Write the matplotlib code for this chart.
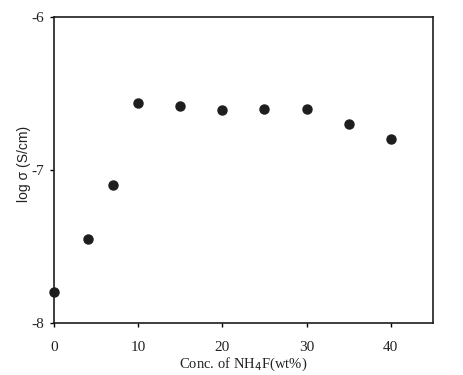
import matplotlib
matplotlib.use("Agg")
import matplotlib.pyplot as plt

# data
conc = [0, 4, 7, 10, 15, 20, 25, 30, 35, 40]
log_sigma = [-7.80, -7.45, -7.10, -6.56, -6.58, -6.61, -6.60, -6.60, -6.70, -6.80]

xticks = [0, 10, 20, 30, 40]
yticks = [-8, -7, -6]

fig = plt.figure(figsize=(4.64, 3.75), dpi=100)
ax = fig.add_axes([0.116, 0.139, 0.817, 0.816])

ax.plot(conc, log_sigma, 'o', color='#1e1e1e', markersize=6.5, clip_on=False, zorder=3)

ax.set_xlim(0, 45)
ax.set_ylim(-8, -6)
ax.set_xticks(xticks)
ax.set_yticks(yticks)
ax.set_xticklabels([str(t) for t in xticks], family='Liberation Serif', fontsize=11, color='#222222')
ax.set_yticklabels([str(t) for t in yticks], family='Liberation Serif', fontsize=11, color='#222222')
ax.tick_params(axis='x', direction='out', length=3, width=1, pad=10)
ax.tick_params(axis='y', direction='out', length=3, width=1, pad=4)

for s in ax.spines.values():
    s.set_linewidth(1.2)
    s.set_color('#1e1e1e')

ax.set_xlabel('Conc. of NH$_4$F(wt%)', family='Liberation Serif', fontsize=10.5,
              color='#222222', labelpad=1)
ax.set_ylabel('log σ (S/cm)', family='Liberation Sans', fontsize=10, color='#222222')
ax.yaxis.set_label_coords(-0.06, 0.52)

fig.savefig('out.png', dpi=100)
